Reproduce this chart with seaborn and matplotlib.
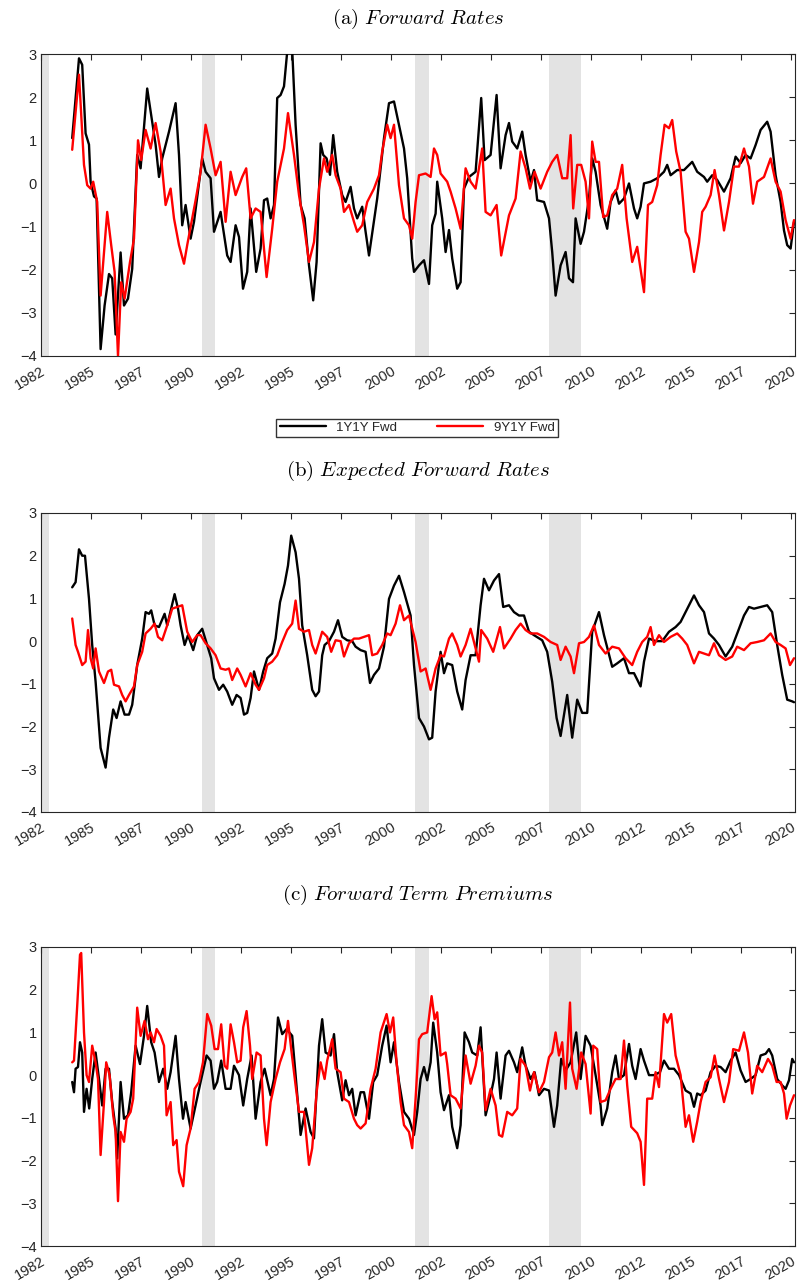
import numpy as np
import pandas as pd
import seaborn as sns
import matplotlib
matplotlib.use("Agg")
import matplotlib.pyplot as plt
from matplotlib.transforms import ScaledTranslation

# ---------------------------------------------------------------- data
# panel (a) forward rates
a_1y_t = [1984.06, 1984.4, 1984.56, 1984.73, 1984.9, 1984.98, 1985.15, 1985.28, 1985.48, 1985.68, 1985.9, 1986.06, 1986.23, 1986.48, 1986.65, 1986.85, 1987.06, 1987.31, 1987.48, 1987.81, 1987.98, 1988.23, 1988.4, 1988.56, 1988.9, 1989.23, 1989.4, 1989.56, 1989.73, 1989.98, 1990.15, 1990.56, 1990.73, 1990.98, 1991.15, 1991.48, 1991.81, 1991.98, 1992.23, 1992.4, 1992.6, 1992.81, 1992.98, 1993.26, 1993.48, 1993.65, 1993.81, 1993.98, 1994.15, 1994.31, 1994.48, 1994.65, 1994.81, 1995.06, 1995.23, 1995.48, 1995.68, 1995.9, 1996.11, 1996.28, 1996.48, 1996.61, 1996.78, 1996.95, 1997.11, 1997.31, 1997.56, 1997.73, 1997.98, 1998.15, 1998.31, 1998.56, 1998.73, 1998.9, 1999.06, 1999.31, 1999.65, 1999.9, 2000.15, 2000.4, 2000.65, 2000.81, 2001.06, 2001.15, 2001.4, 2001.65, 2001.9, 2002.06, 2002.23, 2002.31, 2002.56, 2002.73, 2002.9, 2003.06, 2003.31, 2003.48, 2003.65, 2003.9, 2004.23, 2004.51, 2004.68, 2004.98, 2005.28, 2005.48, 2005.73, 2005.9, 2006.06, 2006.31, 2006.56, 2006.73, 2006.98, 2007.15, 2007.31, 2007.65, 2007.9, 2008.06, 2008.23, 2008.48, 2008.73, 2008.9, 2009.1, 2009.23, 2009.48, 2009.65, 2009.9, 2010.06, 2010.23, 2010.48, 2010.81, 2010.98, 2011.23, 2011.4, 2011.65, 2011.9, 2012.15, 2012.31, 2012.48, 2012.65, 2012.98, 2013.31, 2013.65, 2013.81, 2013.98, 2014.31, 2014.65, 2015.06, 2015.31, 2015.65, 2015.81, 2016.06, 2016.31, 2016.65, 2016.98, 2017.23, 2017.48, 2017.73, 2017.98, 2018.23, 2018.48, 2018.81, 2018.98, 2019.23, 2019.48, 2019.65, 2019.81, 2019.98, 2020.15]
a_1y_v = [1.05, 2.9, 2.75, 1.16, 0.9, 0.04, -0.3, -0.35, -3.84, -2.83, -2.1, -2.2, -3.5, -1.6, -2.83, -2.67, -1.98, 0.66, 0.35, 2.2, 1.67, 0.9, 0.15, 0.58, 1.2, 1.86, 0.66, -0.97, -0.5, -1.28, -0.89, 0.58, 0.27, 0.12, -1.12, -0.66, -1.67, -1.82, -0.97, -1.24, -2.44, -2.05, -0.58, -2.05, -1.51, -0.39, -0.35, -0.81, -0.5, 1.98, 2.05, 2.25, 3.05, 3.1, 1.36, -0.5, -0.81, -1.9, -2.71, -1.82, 0.93, 0.66, 0.58, 0.2, 1.12, 0.27, -0.27, -0.43, -0.08, -0.58, -0.81, -0.54, -1.12, -1.67, -1.16, -0.35, 1.05, 1.86, 1.9, 1.36, 0.81, 0.12, -1.74, -2.05, -1.9, -1.78, -2.33, -0.97, -0.7, 0.04, -0.81, -1.59, -1.08, -1.74, -2.44, -2.29, -0.12, 0.15, 0.27, 1.98, 0.54, 0.66, 2.05, 0.35, 1.12, 1.4, 0.97, 0.81, 1.2, 0.66, 0.04, 0.31, -0.39, -0.43, -0.81, -1.59, -2.6, -1.9, -1.59, -2.2, -2.29, -0.81, -1.4, -1.12, -0.35, 0.58, 0.27, -0.5, -1.05, -0.43, -0.16, -0.47, -0.35, 0.0, -0.58, -0.81, -0.54, 0.0, 0.04, 0.12, 0.27, 0.43, 0.19, 0.31, 0.31, 0.5, 0.27, 0.15, 0.04, 0.19, 0.08, -0.19, 0.12, 0.62, 0.47, 0.66, 0.58, 0.89, 1.24, 1.43, 1.2, 0.19, -0.43, -1.09, -1.43, -1.51, -0.89]

a_9y_t = [1984.06, 1984.4, 1984.65, 1984.81, 1984.98, 1985.11, 1985.31, 1985.48, 1985.65, 1985.81, 1986.01, 1986.18, 1986.35, 1986.51, 1986.68, 1986.95, 1987.15, 1987.35, 1987.51, 1987.73, 1987.98, 1988.23, 1988.48, 1988.73, 1988.98, 1989.15, 1989.4, 1989.65, 1989.81, 1990.06, 1990.23, 1990.48, 1990.73, 1990.98, 1991.23, 1991.48, 1991.73, 1991.98, 1992.23, 1992.56, 1992.76, 1992.98, 1993.23, 1993.48, 1993.78, 1994.06, 1994.31, 1994.65, 1994.85, 1995.15, 1995.4, 1995.65, 1995.9, 1996.15, 1996.4, 1996.65, 1996.81, 1997.06, 1997.23, 1997.48, 1997.65, 1997.9, 1998.15, 1998.31, 1998.56, 1998.81, 1999.15, 1999.4, 1999.56, 1999.81, 1999.98, 2000.15, 2000.4, 2000.65, 2000.9, 2001.06, 2001.23, 2001.4, 2001.73, 2001.98, 2002.15, 2002.31, 2002.48, 2002.81, 2002.98, 2003.23, 2003.48, 2003.73, 2003.98, 2004.23, 2004.56, 2004.73, 2004.98, 2005.28, 2005.51, 2005.9, 2006.23, 2006.48, 2006.73, 2006.95, 2007.18, 2007.48, 2007.81, 2008.06, 2008.31, 2008.56, 2008.81, 2008.98, 2009.11, 2009.31, 2009.51, 2009.73, 2009.9, 2010.06, 2010.23, 2010.4, 2010.61, 2010.81, 2011.06, 2011.31, 2011.56, 2011.78, 2012.06, 2012.31, 2012.65, 2012.85, 2013.06, 2013.31, 2013.48, 2013.68, 2013.9, 2014.06, 2014.26, 2014.48, 2014.73, 2014.9, 2015.15, 2015.4, 2015.56, 2015.73, 2015.98, 2016.18, 2016.4, 2016.65, 2016.9, 2017.15, 2017.4, 2017.65, 2017.9, 2018.1, 2018.31, 2018.65, 2018.98, 2019.23, 2019.48, 2019.73, 2019.98, 2020.15]
a_9y_v = [0.78, 2.52, 0.43, -0.04, -0.12, 0.04, -0.43, -2.6, -1.6, -0.66, -1.43, -2.05, -4.0, -2.29, -2.67, -1.82, -1.28, 1.0, 0.54, 1.24, 0.81, 1.4, 0.74, -0.5, -0.12, -0.81, -1.43, -1.86, -1.43, -0.81, -0.39, 0.27, 1.36, 0.81, 0.19, 0.5, -0.89, 0.27, -0.27, 0.15, 0.35, -0.81, -0.58, -0.66, -2.17, -1.05, 0.04, 0.81, 1.63, 0.66, -0.27, -0.97, -1.82, -1.36, -0.12, 0.58, 0.27, 0.66, 0.19, -0.12, -0.66, -0.5, -0.89, -1.12, -0.97, -0.43, -0.12, 0.19, 0.74, 1.36, 1.05, 1.36, -0.04, -0.81, -0.97, -1.28, -0.43, 0.19, 0.23, 0.15, 0.81, 0.66, 0.23, 0.04, -0.19, -0.58, -1.05, 0.35, 0.04, -0.12, 0.81, -0.66, -0.74, -0.5, -1.67, -0.74, -0.35, 0.74, 0.35, -0.12, 0.27, -0.12, 0.27, 0.5, 0.66, 0.12, 0.12, 1.12, -0.58, 0.43, 0.43, 0.04, -0.81, 0.97, 0.5, 0.5, -0.78, -0.74, -0.27, -0.12, 0.43, -0.81, -1.82, -1.47, -2.52, -0.5, -0.43, -0.04, 0.66, 1.36, 1.28, 1.47, 0.74, 0.27, -1.12, -1.28, -2.05, -1.36, -0.66, -0.54, -0.27, 0.31, -0.27, -1.09, -0.43, 0.39, 0.39, 0.81, 0.39, -0.47, 0.04, 0.15, 0.58, 0.04, -0.19, -0.85, -1.28, -0.85]

# panel (b) expected forward rates
b_1y_t = [1984.06, 1984.23, 1984.4, 1984.56, 1984.7, 1984.9, 1985.06, 1985.23, 1985.48, 1985.73, 1985.9, 1986.11, 1986.28, 1986.48, 1986.68, 1986.9, 1987.06, 1987.31, 1987.56, 1987.73, 1987.9, 1988.01, 1988.18, 1988.4, 1988.68, 1988.81, 1989.01, 1989.18, 1989.35, 1989.48, 1989.68, 1989.85, 1990.11, 1990.31, 1990.56, 1990.81, 1991.01, 1991.15, 1991.4, 1991.61, 1991.81, 1992.06, 1992.28, 1992.48, 1992.65, 1992.81, 1992.98, 1993.15, 1993.4, 1993.61, 1993.81, 1994.06, 1994.23, 1994.45, 1994.68, 1994.85, 1995.01, 1995.23, 1995.4, 1995.56, 1995.81, 1996.06, 1996.23, 1996.4, 1996.56, 1996.68, 1996.9, 1997.15, 1997.35, 1997.56, 1997.81, 1998.06, 1998.23, 1998.48, 1998.73, 1998.95, 1999.15, 1999.4, 1999.65, 1999.9, 2000.15, 2000.4, 2000.65, 2000.98, 2001.15, 2001.4, 2001.65, 2001.9, 2002.06, 2002.23, 2002.48, 2002.65, 2002.81, 2003.06, 2003.31, 2003.56, 2003.73, 2003.98, 2004.23, 2004.48, 2004.65, 2004.9, 2005.15, 2005.4, 2005.61, 2005.9, 2006.15, 2006.4, 2006.65, 2006.9, 2007.15, 2007.56, 2007.81, 2008.06, 2008.28, 2008.48, 2008.81, 2009.06, 2009.31, 2009.56, 2009.81, 2010.06, 2010.4, 2010.65, 2011.06, 2011.31, 2011.65, 2011.9, 2012.15, 2012.48, 2012.65, 2012.9, 2013.23, 2013.56, 2013.9, 2014.23, 2014.48, 2014.73, 2015.15, 2015.4, 2015.65, 2015.9, 2016.15, 2016.4, 2016.73, 2017.06, 2017.4, 2017.65, 2017.9, 2018.15, 2018.48, 2018.81, 2019.06, 2019.31, 2019.56, 2019.81, 2020.06, 2020.15]
b_1y_v = [1.26, 1.38, 2.15, 2.0, 2.0, 0.99, -0.09, -0.95, -2.5, -2.96, -2.26, -1.6, -1.8, -1.41, -1.72, -1.72, -1.49, -0.56, 0.06, 0.68, 0.64, 0.72, 0.37, 0.33, 0.64, 0.37, 0.76, 1.1, 0.76, 0.37, -0.09, 0.14, -0.21, 0.14, 0.29, -0.09, -0.4, -0.87, -1.14, -1.02, -1.18, -1.49, -1.26, -1.33, -1.72, -1.68, -1.33, -0.71, -1.14, -0.71, -0.4, -0.29, 0.06, 0.91, 1.34, 1.77, 2.47, 2.08, 1.46, 0.37, -0.33, -1.14, -1.29, -1.18, -0.33, -0.09, 0.0, 0.22, 0.49, 0.1, 0.02, 0.0, -0.13, -0.21, -0.25, -0.98, -0.79, -0.64, -0.13, 0.99, 1.3, 1.53, 1.15, 0.6, -0.56, -1.8, -2.0, -2.3, -2.26, -1.18, -0.25, -0.75, -0.52, -0.56, -1.18, -1.6, -0.91, -0.33, -0.33, 0.84, 1.46, 1.19, 1.42, 1.57, 0.8, 0.84, 0.68, 0.6, 0.6, 0.22, 0.14, 0.02, -0.25, -0.95, -1.8, -2.22, -1.26, -2.26, -1.37, -1.68, -1.68, 0.22, 0.68, 0.14, -0.6, -0.52, -0.4, -0.75, -0.75, -1.06, -0.48, 0.06, 0.0, 0.0, 0.22, 0.33, 0.45, 0.68, 1.07, 0.84, 0.68, 0.18, 0.06, -0.09, -0.36, -0.13, 0.29, 0.6, 0.8, 0.76, 0.8, 0.84, 0.68, -0.09, -0.79, -1.37, -1.41, -1.43]

b_9y_t = [1984.06, 1984.23, 1984.35, 1984.56, 1984.73, 1984.85, 1984.98, 1985.11, 1985.23, 1985.4, 1985.65, 1985.85, 1986.01, 1986.15, 1986.4, 1986.56, 1986.73, 1986.9, 1987.15, 1987.31, 1987.56, 1987.73, 1987.98, 1988.18, 1988.35, 1988.56, 1988.81, 1989.06, 1989.31, 1989.56, 1989.81, 1990.06, 1990.31, 1990.48, 1990.73, 1990.98, 1991.23, 1991.48, 1991.73, 1991.9, 1992.06, 1992.31, 1992.48, 1992.73, 1992.98, 1993.23, 1993.4, 1993.65, 1993.81, 1994.06, 1994.31, 1994.56, 1994.81, 1995.06, 1995.23, 1995.4, 1995.65, 1995.9, 1996.06, 1996.23, 1996.56, 1996.81, 1997.01, 1997.23, 1997.48, 1997.65, 1997.9, 1998.15, 1998.4, 1998.65, 1998.9, 1999.06, 1999.31, 1999.56, 1999.81, 1999.98, 2000.23, 2000.45, 2000.65, 2000.9, 2001.23, 2001.48, 2001.73, 2001.98, 2002.23, 2002.48, 2002.65, 2002.9, 2003.06, 2003.31, 2003.48, 2003.73, 2003.98, 2004.23, 2004.4, 2004.51, 2004.81, 2005.11, 2005.45, 2005.65, 2005.98, 2006.23, 2006.48, 2006.73, 2006.98, 2007.31, 2007.65, 2007.98, 2008.31, 2008.48, 2008.73, 2008.98, 2009.15, 2009.4, 2009.65, 2009.9, 2010.15, 2010.4, 2010.73, 2011.06, 2011.4, 2011.73, 2012.06, 2012.31, 2012.56, 2012.81, 2012.98, 2013.15, 2013.4, 2013.65, 2013.98, 2014.31, 2014.56, 2014.81, 2015.15, 2015.4, 2015.65, 2015.9, 2016.15, 2016.4, 2016.73, 2017.06, 2017.31, 2017.65, 2017.98, 2018.31, 2018.65, 2018.98, 2019.23, 2019.48, 2019.73, 2019.95, 2020.15]
b_9y_v = [0.53, -0.09, -0.25, -0.56, -0.48, 0.26, -0.4, -0.64, -0.17, -0.71, -0.98, -0.71, -0.67, -1.02, -1.06, -1.26, -1.41, -1.26, -1.06, -0.56, -0.25, 0.18, 0.29, 0.41, 0.1, 0.02, 0.37, 0.76, 0.8, 0.84, 0.22, -0.02, 0.14, 0.14, -0.05, -0.17, -0.33, -0.64, -0.67, -0.64, -0.91, -0.64, -0.79, -1.06, -0.75, -1.02, -1.14, -0.87, -0.56, -0.48, -0.33, -0.02, 0.26, 0.41, 0.95, 0.29, 0.22, 0.26, -0.09, -0.29, 0.22, 0.1, -0.25, 0.02, 0.0, -0.36, -0.05, 0.06, 0.06, 0.1, 0.14, -0.33, -0.29, -0.09, 0.18, 0.14, 0.41, 0.84, 0.49, 0.6, -0.02, -0.71, -0.64, -1.14, -0.64, -0.33, -0.36, 0.06, 0.18, -0.09, -0.36, -0.09, 0.29, -0.17, -0.48, 0.26, 0.06, -0.25, 0.33, -0.17, 0.06, 0.26, 0.41, 0.26, 0.18, 0.18, 0.1, -0.02, -0.09, -0.44, -0.13, -0.36, -0.75, -0.05, -0.02, 0.1, 0.37, -0.09, -0.29, -0.13, -0.17, -0.4, -0.56, -0.25, -0.02, 0.1, 0.33, -0.09, 0.14, -0.02, 0.1, 0.18, 0.06, -0.09, -0.52, -0.25, -0.29, -0.33, -0.05, -0.33, -0.44, -0.36, -0.13, -0.21, -0.05, -0.02, 0.02, 0.18, -0.02, -0.09, -0.17, -0.56, -0.4]

# panel (c) forward term premiums
c_1y_t = [1984.06, 1984.15, 1984.23, 1984.35, 1984.45, 1984.56, 1984.65, 1984.78, 1984.91, 1985.06, 1985.23, 1985.4, 1985.56, 1985.73, 1985.9, 1986.06, 1986.23, 1986.31, 1986.48, 1986.65, 1986.85, 1987.01, 1987.23, 1987.45, 1987.65, 1987.81, 1988.01, 1988.18, 1988.4, 1988.61, 1988.81, 1988.98, 1989.23, 1989.4, 1989.6, 1989.73, 1989.98, 1990.23, 1990.48, 1990.78, 1990.98, 1991.15, 1991.31, 1991.51, 1991.73, 1991.98, 1992.15, 1992.4, 1992.61, 1992.81, 1993.03, 1993.23, 1993.48, 1993.68, 1993.98, 1994.15, 1994.35, 1994.56, 1994.78, 1995.06, 1995.23, 1995.48, 1995.73, 1995.98, 1996.15, 1996.4, 1996.56, 1996.73, 1996.98, 1997.15, 1997.31, 1997.56, 1997.73, 1997.9, 1998.06, 1998.23, 1998.48, 1998.65, 1998.9, 1999.11, 1999.31, 1999.56, 1999.78, 1999.98, 2000.15, 2000.4, 2000.65, 2000.9, 2001.15, 2001.31, 2001.48, 2001.65, 2001.81, 2001.98, 2002.11, 2002.31, 2002.48, 2002.65, 2002.9, 2003.06, 2003.31, 2003.48, 2003.68, 2003.9, 2004.06, 2004.31, 2004.48, 2004.73, 2004.98, 2005.15, 2005.28, 2005.48, 2005.73, 2005.9, 2006.15, 2006.31, 2006.56, 2006.73, 2006.98, 2007.18, 2007.4, 2007.65, 2007.9, 2008.15, 2008.31, 2008.51, 2008.73, 2008.98, 2009.26, 2009.48, 2009.73, 2009.98, 2010.23, 2010.48, 2010.56, 2010.81, 2011.06, 2011.23, 2011.4, 2011.65, 2011.9, 2012.06, 2012.23, 2012.48, 2012.65, 2012.9, 2013.15, 2013.45, 2013.65, 2013.9, 2014.15, 2014.4, 2014.73, 2014.98, 2015.15, 2015.31, 2015.48, 2015.73, 2015.98, 2016.23, 2016.48, 2016.73, 2016.98, 2017.23, 2017.48, 2017.73, 2017.98, 2018.23, 2018.48, 2018.73, 2018.9, 2019.06, 2019.31, 2019.56, 2019.73, 2019.9, 2020.06, 2020.15]
c_1y_v = [-0.16, -0.4, 0.15, 0.19, 0.77, 0.53, -0.86, -0.32, -0.78, -0.09, 0.53, -0.09, -0.71, 0.15, 0.15, -0.63, -1.25, -1.95, -0.16, -1.02, -0.94, -0.4, 0.69, 0.26, 0.92, 1.62, 0.77, 0.53, -0.16, 0.15, -0.32, 0.07, 0.92, -0.09, -1.02, -0.63, -1.25, -0.71, -0.16, 0.46, 0.34, -0.32, -0.16, 0.34, -0.32, -0.32, 0.22, 0.0, -0.71, -0.09, 0.46, -1.02, -0.16, 0.15, -0.47, -0.09, 1.35, 0.96, 1.08, 0.92, 0.0, -1.4, -0.78, -1.33, -1.48, 0.69, 1.31, 0.53, 0.46, 0.96, 0.07, -0.59, -0.12, -0.47, -0.32, -0.94, -0.4, -0.4, -1.02, -0.16, 0.0, 0.69, 1.16, 0.3, 0.77, -0.16, -0.86, -1.02, -1.4, -0.86, -0.09, 0.19, -0.12, 0.3, 1.23, 0.53, -0.4, -0.82, -0.47, -1.21, -1.71, -1.17, 1.0, 0.77, 0.53, 0.46, 1.12, -0.94, -0.47, -0.09, 0.53, -0.55, 0.46, 0.57, 0.3, 0.07, 0.65, 0.22, -0.09, 0.07, -0.47, -0.32, -0.36, -1.21, -0.71, 0.38, 0.11, 0.3, 1.0, -0.09, 0.92, 0.69, 0.0, -0.71, -1.17, -0.78, 0.07, 0.46, -0.09, 0.0, 0.73, 0.22, -0.09, 0.61, 0.34, 0.0, 0.0, 0.07, 0.34, 0.15, 0.15, 0.0, -0.36, -0.43, -0.74, -0.43, -0.47, -0.36, 0.07, 0.22, 0.19, 0.07, 0.34, 0.53, 0.11, -0.16, -0.09, 0.0, 0.46, 0.5, 0.61, 0.46, -0.09, -0.24, -0.32, -0.12, 0.38, 0.3]

c_9y_t = [1984.06, 1984.15, 1984.31, 1984.45, 1984.51, 1984.65, 1984.78, 1984.9, 1985.06, 1985.23, 1985.35, 1985.48, 1985.65, 1985.76, 1985.93, 1986.11, 1986.23, 1986.35, 1986.48, 1986.65, 1986.78, 1986.98, 1987.11, 1987.31, 1987.48, 1987.68, 1987.85, 1987.98, 1988.15, 1988.28, 1988.48, 1988.65, 1988.78, 1988.98, 1989.11, 1989.28, 1989.4, 1989.61, 1989.78, 1989.98, 1990.18, 1990.4, 1990.6, 1990.81, 1991.01, 1991.18, 1991.35, 1991.51, 1991.68, 1991.81, 1991.98, 1992.15, 1992.31, 1992.48, 1992.61, 1992.78, 1992.95, 1993.06, 1993.28, 1993.48, 1993.65, 1993.78, 1993.98, 1994.23, 1994.45, 1994.68, 1994.85, 1995.01, 1995.23, 1995.4, 1995.65, 1995.9, 1996.06, 1996.28, 1996.48, 1996.68, 1996.81, 1997.06, 1997.23, 1997.48, 1997.65, 1997.9, 1998.15, 1998.31, 1998.48, 1998.73, 1998.98, 1999.23, 1999.48, 1999.78, 1999.95, 2000.11, 2000.28, 2000.48, 2000.65, 2000.9, 2001.06, 2001.23, 2001.4, 2001.56, 2001.81, 2002.03, 2002.18, 2002.31, 2002.48, 2002.73, 2002.81, 2002.98, 2003.23, 2003.48, 2003.73, 2003.98, 2004.23, 2004.4, 2004.56, 2004.73, 2004.98, 2005.23, 2005.4, 2005.56, 2005.81, 2006.06, 2006.31, 2006.48, 2006.73, 2006.95, 2007.15, 2007.4, 2007.65, 2007.9, 2008.06, 2008.23, 2008.4, 2008.56, 2008.73, 2008.95, 2009.06, 2009.28, 2009.51, 2009.73, 2009.98, 2010.11, 2010.31, 2010.48, 2010.73, 2010.98, 2011.23, 2011.48, 2011.65, 2011.81, 2012.01, 2012.31, 2012.48, 2012.65, 2012.81, 2013.06, 2013.23, 2013.4, 2013.65, 2013.81, 2014.01, 2014.23, 2014.48, 2014.73, 2014.9, 2015.11, 2015.31, 2015.48, 2015.73, 2015.98, 2016.18, 2016.4, 2016.65, 2016.9, 2017.11, 2017.4, 2017.65, 2017.85, 2018.06, 2018.31, 2018.56, 2018.85, 2019.06, 2019.28, 2019.48, 2019.65, 2019.78, 2019.95, 2020.15]
c_9y_v = [0.3, 0.34, 1.62, 2.82, 2.86, 1.0, 0.0, -0.16, 0.69, 0.3, -0.09, -1.87, -0.63, 0.3, 0.0, -0.94, -1.33, -2.95, -1.33, -1.56, -1.02, -0.86, -0.55, 1.58, 0.92, 1.27, 0.84, 1.0, 0.77, 1.08, 0.92, 0.69, -0.94, -0.63, -1.64, -1.52, -2.26, -2.6, -1.64, -1.25, -0.32, -0.16, 0.3, 1.43, 1.16, 0.61, 0.61, 1.19, 0.22, 0.15, 1.19, 0.77, 0.3, 0.34, 1.12, 1.5, 0.69, -0.09, 0.53, 0.46, -1.02, -1.64, -0.63, -0.09, 0.3, 0.61, 1.27, 0.61, -0.24, -0.86, -0.86, -2.1, -1.71, -0.4, 0.3, -0.09, 0.34, 0.84, 0.15, 0.07, -0.55, -0.63, -1.02, -1.17, -1.25, -1.13, -0.32, 0.15, 1.0, 1.43, 1.0, 1.35, 0.3, -0.63, -1.17, -1.33, -1.71, -0.55, 0.84, 0.96, 1.0, 1.85, 1.31, 1.47, 0.46, 0.53, 0.26, -0.47, -0.55, -0.78, 0.46, -0.2, 0.22, 0.69, 0.53, -0.82, -0.32, -0.71, -1.4, -1.44, -0.86, -0.94, -0.78, 0.38, 0.22, -0.36, 0.07, -0.4, -0.16, 0.42, 0.53, 1.0, 0.46, 0.77, -0.32, 1.7, 0.15, -0.32, 0.53, 0.26, -0.9, 0.69, 0.61, -0.63, -0.59, -0.32, -0.09, -0.09, 0.81, -0.24, -1.21, -1.36, -1.56, -2.57, -0.55, -0.55, 0.07, -0.28, 1.43, 1.23, 1.43, 0.46, 0.0, -1.21, -0.94, -1.56, -1.09, -0.63, -0.16, -0.05, 0.46, -0.09, -0.63, -0.16, 0.61, 0.57, 1.0, 0.53, -0.43, 0.22, 0.07, 0.38, 0.22, -0.16, -0.16, -0.43, -1.02, -0.71, -0.47]

recessions = [(1982.5, 1982.9), (1990.55, 1991.2), (2001.2, 2001.88), (2007.92, 2009.5)]
tick_pos = [1982.5 + 2.5 * k for k in range(16)]
tick_lab = ['1982', '1985', '1987', '1990', '1992', '1995', '1997', '2000',
            '2002', '2005', '2007', '2010', '2012', '2015', '2017', '2020']

panels = [
    ('(a)', 'Forward\\ Rates', a_1y_t, a_1y_v, a_9y_t, a_9y_v),
    ('(b)', 'Expected\\ Forward\\ Rates', b_1y_t, b_1y_v, b_9y_t, b_9y_v),
    ('(c)', 'Forward\\ Term\\ Premiums', c_1y_t, c_1y_v, c_9y_t, c_9y_v),
]

# ---------------------------------------------------------------- style
sns.set_style("white")
plt.rcParams['font.family'] = ['Liberation Sans', 'DejaVu Sans']
plt.rcParams['mathtext.fontset'] = 'cm'

fig = plt.figure(figsize=(7.99, 12.84), dpi=100)
boxes = [(54, 356, 22), (513, 812, 27), (947, 1246, 34)]
L, R, H = 41, 795, 1284

for (top, bot, tpad), (lab, name, t1, v1, t9, v9) in zip(boxes, panels):
    ax = fig.add_axes([L / 799, 1 - bot / H, (R - L) / 799, (bot - top) / H])
    for x0, x1 in recessions:
        ax.axvspan(x0, x1, color='#e3e3e3', lw=0, zorder=0)
    df1 = pd.DataFrame({'year': t1, 'value': v1})
    df9 = pd.DataFrame({'year': t9, 'value': v9})
    sns.lineplot(data=df1, x='year', y='value', ax=ax, color='black', lw=1.7,
                 label='1Y1Y Fwd', legend=False, zorder=3)
    sns.lineplot(data=df9, x='year', y='value', ax=ax, color='#ff0000', lw=1.7,
                 label='9Y1Y Fwd', legend=False, zorder=4)
    ax.set_xlim(1982.5, 2020.2)
    ax.set_ylim(-4, 3)
    ax.set_yticks(range(-4, 4))
    ax.set_xticks(tick_pos)
    ax.set_xticklabels(tick_lab, rotation=30, fontsize=10.5, ha='right',
                       rotation_mode='anchor')
    shift = ScaledTranslation(14 / 100, 0, fig.dpi_scale_trans)
    for t in ax.get_xticklabels():
        t.set_transform(t.get_transform() + shift)
    for t in ax.get_yticklabels():
        t.set_fontsize(10.5)
    ax.set_xlabel('')
    ax.set_ylabel('')
    ax.tick_params(direction='in', length=4, width=0.8, top=True, right=True,
                   colors='#262626', pad=3)
    ax.tick_params(axis='x', pad=6)
    for s in ax.spines.values():
        s.set_color('#262626')
        s.set_linewidth(0.8)
    ax.set_title(r'$\mathrm{%s}\ \mathit{%s}$' % (lab, name), fontsize=15,
                 pad=tpad, color='black')
    if lab == '(a)':
        handles, labels = ax.get_legend_handles_labels()

fig.legend(handles, labels, loc='center', ncol=2, bbox_to_anchor=(417 / 799, 1 - 428 / H),
           frameon=True, fancybox=False, edgecolor='black', fontsize=9.5,
           handlelength=3.5, columnspacing=3, borderpad=0.25)

fig.savefig('out.png', dpi=100)
